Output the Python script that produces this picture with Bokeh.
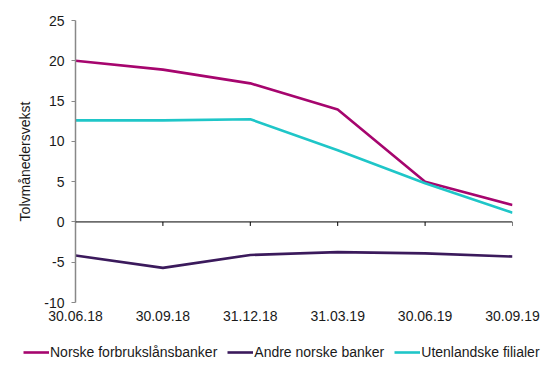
from bokeh.plotting import figure
from bokeh.layouts import column
from bokeh.models import Range1d, FixedTicker, Legend, LegendItem, Span
from bokeh.embed import file_html
from bokeh.resources import INLINE

categories = ["30.06.18", "30.09.18", "31.12.18", "31.03.19", "30.06.19", "30.09.19"]
norske_forbruk = [20.0, 18.9, 17.2, 13.95, 5.0, 2.1]
andre_norske = [-4.17, -5.7, -4.1, -3.75, -3.9, -4.3]
utenlandske = [12.6, 12.6, 12.75, 8.9, 4.8, 1.15]
y_ticks = [-10, -5, 0, 5, 10, 15, 20, 25]
series_names = ["Norske forbrukslånsbanker", "Andre norske banker", "Utenlandske filialer"]
colors = ["#A6056E", "#3B1A5C", "#1FC6C8"]

FONT = "Liberation Sans"
FS = "14px"
TXT = "#1a1a1a"
W = 552

x = list(range(len(categories)))
series = [norske_forbruk, andre_norske, utenlandske]

p = figure(width=W, height=330, x_range=Range1d(0, len(categories) - 1),
           y_range=Range1d(-10, 25), output_backend="svg", toolbar_location=None,
           min_border_left=75, min_border_right=40, min_border_top=20, min_border_bottom=28)
p.frame_align = False
p.outline_line_color = None
p.grid.visible = False
p.background_fill_color = "white"
p.border_fill_color = "white"

# zero line with small ticks below it
p.add_layout(Span(location=0, dimension="width", line_color="black", line_width=1))
tick_len = 0.5
p.segment(x0=x, y0=[0] * len(x), x1=x, y1=[-tick_len] * len(x), line_color="black", line_width=1)

for vals, col in zip(series, colors):
    p.line(x, vals, line_color=col, line_width=2.6)

# bottom category labels
xa = p.xaxis[0]
xa.ticker = FixedTicker(ticks=x)
xa.major_label_overrides = {i: c for i, c in zip(x, categories)}
xa.axis_line_color = None
xa.major_tick_line_color = None
xa.minor_tick_line_color = None
xa.major_tick_out = 0
xa.major_label_standoff = 8
xa.major_label_text_font = FONT
xa.major_label_text_font_size = FS
xa.major_label_text_color = TXT

ya = p.yaxis[0]
ya.ticker = FixedTicker(ticks=y_ticks)
ya.major_label_overrides = {t: str(t) for t in y_ticks}
ya.axis_line_color = "#888888"
ya.axis_line_width = 1.5
ya.major_tick_line_color = "#888888"
ya.major_tick_out = 4
ya.major_tick_in = 0
ya.minor_tick_line_color = None
ya.major_label_text_font = FONT
ya.major_label_text_font_size = FS
ya.major_label_text_color = TXT
ya.major_label_standoff = 7
ya.axis_label = "Tolvmånedersvekst"
ya.axis_label_text_font = FONT
ya.axis_label_text_font_size = FS
ya.axis_label_text_font_style = "normal"
ya.axis_label_text_color = TXT
ya.axis_label_standoff = 8

# legend strip (separate figure, lines lie outside its view)
lg = figure(width=W, height=35, x_range=Range1d(-100, -99), y_range=Range1d(-100, -99),
            output_backend="svg", toolbar_location=None, min_border=0,
            min_border_left=0, min_border_right=0, min_border_top=0, min_border_bottom=0)
lg.frame_align = False
lg.outline_line_color = None
lg.grid.visible = False
lg.axis.visible = False
lg.border_fill_color = "white"
lrs = [lg.line(x, vals, line_color=col, line_width=2.6) for vals, col in zip(series, colors)]

legend = Legend(items=[LegendItem(label=n, renderers=[r]) for n, r in zip(series_names, lrs)],
                orientation="horizontal", location=(23, 3))
legend.label_text_font = FONT
legend.label_text_font_size = FS
legend.label_text_color = TXT
legend.glyph_width = 26
legend.label_standoff = 1
legend.spacing = 10
legend.padding = 2
legend.margin = 0
legend.border_line_color = None
legend.background_fill_alpha = 0
lg.add_layout(legend)

layout = column(p, lg, spacing=0)
open("out.html", "w").write(file_html(layout, INLINE))
